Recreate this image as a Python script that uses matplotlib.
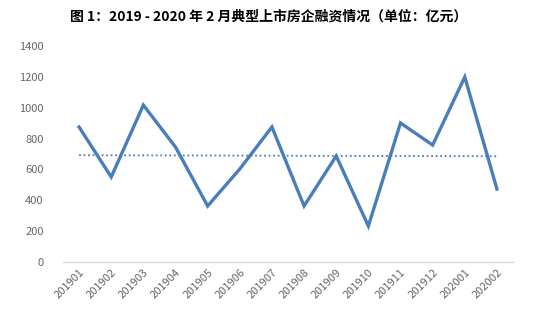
import numpy as np
import matplotlib
matplotlib.use("Agg")
import matplotlib.pyplot as plt

plt.rcParams['font.family'] = ['Noto Sans CJK SC', 'DejaVu Sans']

months = ["201901", "201902", "201903", "201904", "201905", "201906", "201907",
          "201908", "201909", "201910", "201911", "201912", "202001", "202002"]
financing = [875, 551, 1017, 745, 363, 603, 875, 363, 687, 233, 901, 758, 1199, 473]
yticks = [0, 200, 400, 600, 800, 1000, 1200, 1400]

W, H = 537, 318
fig = plt.figure(figsize=(W / 100, H / 100), dpi=100)
ax = fig.add_axes([63 / W, 1 - 262 / H, (513 - 63) / W, (262 - 46) / H])

x = np.arange(len(months))
ax.plot(x, financing, color="#4a7ebb", lw=2.4, solid_joinstyle="miter")

# linear trend line
k, b = np.polyfit(x, financing, 1)
ax.plot(x, k * x + b, color="#4a7ebb", lw=1.3, ls=(0, (1, 1.5)))

ax.set_xlim(-0.5, len(months) - 0.5)
ax.set_ylim(0, 1400)
ax.set_yticks(yticks)
ax.set_xticks(x)
ax.set_xticklabels(months, rotation=45, ha="right", rotation_mode="anchor")
ax.tick_params(axis="both", length=0, colors="#666666", labelsize=8)
ax.tick_params(axis="y", pad=14)
ax.tick_params(axis="x", pad=4)
for s in ["top", "right", "left"]:
    ax.spines[s].set_visible(False)
ax.spines["bottom"].set_color("#d9d9d9")
ax.spines["bottom"].set_linewidth(1)

fig.text(0.5, 1 - 17 / H, "图 1：2019 - 2020 年 2 月典型上市房企融资情况（单位：亿元）",
         ha="center", va="center", fontsize=10, fontweight="bold", color="#000000")

fig.savefig("out.png", dpi=100)
